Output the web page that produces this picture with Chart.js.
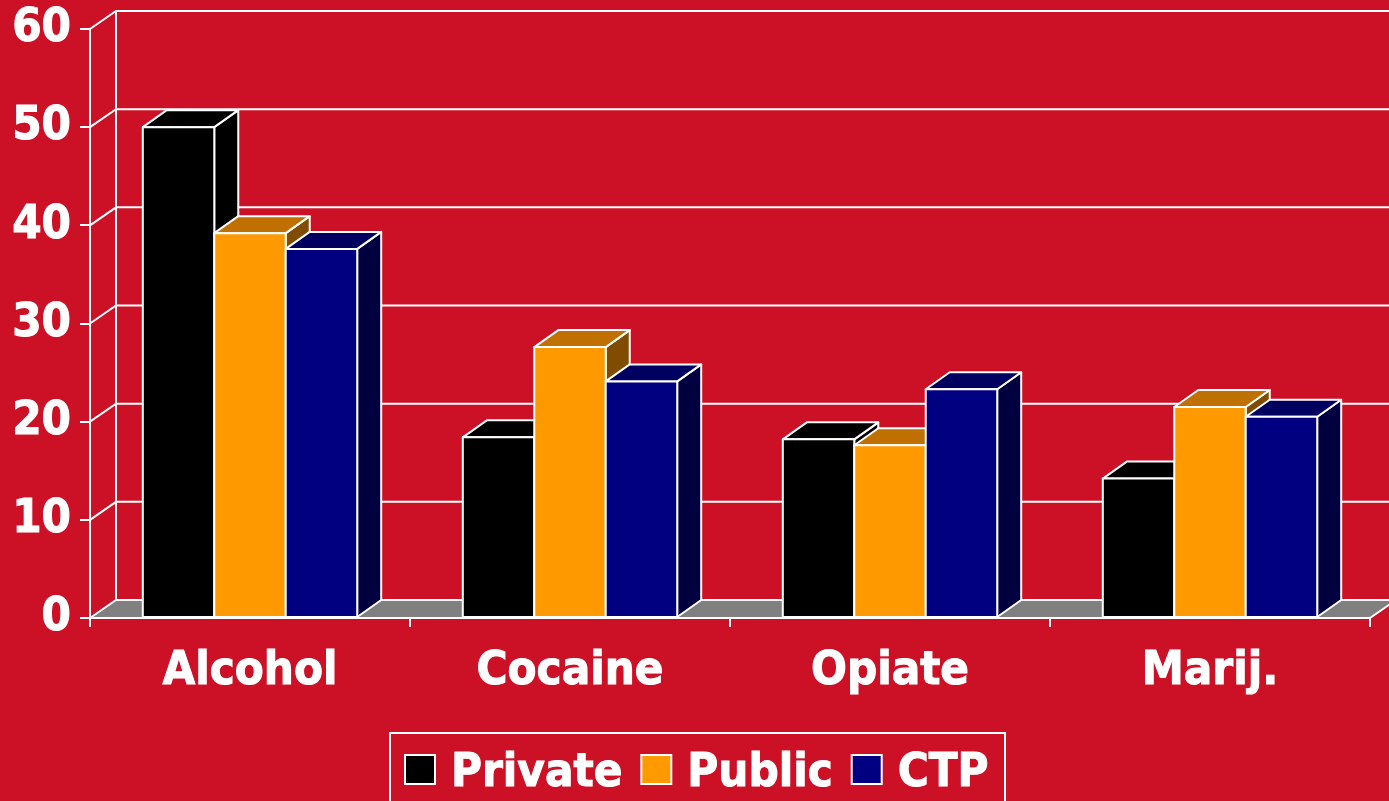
<!DOCTYPE html>
<html>
<head>
<meta charset="utf-8">
<script src="https://cdn.jsdelivr.net/npm/chart.js@4.4.1/dist/chart.umd.min.js"></script>
<style>
  html, body { margin: 0; padding: 0; background: #CC1026; }
  #wrap { width: 1389px; height: 801px; position: relative; }
</style>
</head>
<body>
<div id="wrap"><canvas id="chart"></canvas></div>
<script>
// --- Data
const categories = ['Alcohol', 'Cocaine', 'Opiate', 'Marij.'];
const seriesNames = ['Private', 'Public', 'CTP'];
const privateValues = [50.0, 18.4, 18.2, 14.2];
const publicValues = [39.2, 27.6, 17.6, 21.5];
const ctpValues = [37.6, 24.1, 23.3, 20.5];
const yTicks = [0, 10, 20, 30, 40, 50, 60];

// --- Styles
const BG = '#CC1026';
const FLOOR = '#808080';
const faceColors = ['#000000', '#FF9900', '#000080'];
const topColors = ['#000000', '#C07000', '#000060'];
const sideColors = ['#000000', '#804C00', '#000040'];
const FONT = '"DejaVu Sans Condensed", "DejaVu Sans", sans-serif';
const FONT_SIZE = 47;
const TEXT_STROKE = 1.0; // thickens the bold labels a little

// oblique depth of the walls and of the bars
const WALL_DX = 26, WALL_DY = -18;
const BAR_DX = 24, BAR_DY = -17;

function poly(ctx, pts, fill) {
  ctx.beginPath();
  ctx.moveTo(pts[0][0], pts[0][1]);
  for (let i = 1; i < pts.length; i++) ctx.lineTo(pts[i][0], pts[i][1]);
  ctx.closePath();
  ctx.fillStyle = fill;
  ctx.fill();
  ctx.stroke();
}

const box3d = {
  id: 'box3d',
  beforeDraw(chart) {
    const { ctx, chartArea: a } = chart;
    const y = chart.scales.y;
    const y0 = y.getPixelForValue(0);
    ctx.save();
    ctx.fillStyle = BG;
    ctx.fillRect(0, 0, chart.width, chart.height);

    // floor
    ctx.beginPath();
    ctx.moveTo(a.left, y0);
    ctx.lineTo(a.right, y0);
    ctx.lineTo(a.right + WALL_DX, y0 + WALL_DY);
    ctx.lineTo(a.left + WALL_DX, y0 + WALL_DY);
    ctx.closePath();
    ctx.fillStyle = FLOOR;
    ctx.fill();

    ctx.strokeStyle = '#fff';
    ctx.lineWidth = 2;
    // side wall diagonals + back wall gridlines
    yTicks.forEach(v => {
      const py = y.getPixelForValue(v);
      ctx.beginPath();
      ctx.moveTo(a.left, py);
      ctx.lineTo(a.left + WALL_DX, py + WALL_DY);
      ctx.lineTo(a.right + WALL_DX, py + WALL_DY);
      ctx.stroke();
    });
    // back wall left edge
    ctx.beginPath();
    ctx.moveTo(a.left + WALL_DX, y.getPixelForValue(60) + WALL_DY);
    ctx.lineTo(a.left + WALL_DX, y0 + WALL_DY);
    ctx.stroke();
    // floor right edge
    ctx.beginPath();
    ctx.moveTo(a.right, y0);
    ctx.lineTo(a.right + WALL_DX, y0 + WALL_DY);
    ctx.stroke();
    ctx.restore();
  },
  // bars are drawn below, category by category, so nearer faces overlap correctly
  beforeDatasetDraw() { return false; },
  afterDatasetsDraw(chart) {
    const ctx = chart.ctx;
    const metas = chart.data.datasets.map((d, i) => chart.getDatasetMeta(i));
    ctx.save();
    ctx.strokeStyle = '#fff';
    ctx.lineWidth = 2;
    ctx.lineJoin = 'round';
    categories.forEach((c, ci) => {
      metas.forEach((m, di) => {
        const { x, y, base, width } = m.data[ci].getProps(['x', 'y', 'base', 'width'], true);
        const l = x - width / 2, r = x + width / 2;
        poly(ctx, [[r, y], [r + BAR_DX, y + BAR_DY], [r + BAR_DX, base + BAR_DY], [r, base]], sideColors[di]);
        poly(ctx, [[l, y], [l + BAR_DX, y + BAR_DY], [r + BAR_DX, y + BAR_DY], [r, y]], topColors[di]);
        poly(ctx, [[l, y], [r, y], [r, base], [l, base]], faceColors[di]);
      });
    });
    ctx.restore();
  },
  afterDraw(chart) {
    // legend box
    const ctx = chart.ctx;
    ctx.save();
    ctx.strokeStyle = '#fff';
    ctx.lineWidth = 2;
    ctx.strokeRect(390, 733, 615, 80);
    ctx.font = 'bold ' + FONT_SIZE + 'px ' + FONT;
    ctx.textBaseline = 'alphabetic';
    let cx = 405;
    seriesNames.forEach((name, i) => {
      ctx.fillStyle = faceColors[i];
      ctx.lineWidth = 2;
      ctx.fillRect(cx, 755, 30, 29);
      ctx.strokeRect(cx, 755, 30, 29);
      cx += 30 + 16;
      ctx.fillStyle = '#fff';
      ctx.lineWidth = TEXT_STROKE;
      ctx.fillText(name, cx, 786);
      ctx.strokeText(name, cx, 786);
      cx += ctx.measureText(name).width + 19;
    });
    ctx.restore();
  }
};

const tickFont = { family: FONT, weight: 'bold', size: FONT_SIZE };

new Chart(document.getElementById('chart'), {
  type: 'bar',
  data: {
    labels: categories,
    datasets: [
      { label: seriesNames[0], data: privateValues, backgroundColor: faceColors[0] },
      { label: seriesNames[1], data: publicValues, backgroundColor: faceColors[1] },
      { label: seriesNames[2], data: ctpValues, backgroundColor: faceColors[2] }
    ]
  },
  options: {
    responsive: true,
    maintainAspectRatio: false,
    animation: false,
    layout: { padding: { top: 29, right: 19, left: 0, bottom: 0 } },
    datasets: { bar: { categoryPercentage: 0.67, barPercentage: 1 } },
    plugins: { legend: { display: false }, tooltip: { enabled: false } },
    scales: {
      x: {
        grid: { offset: true, drawOnChartArea: false, color: '#fff', lineWidth: 2, tickLength: 9 },
        border: { color: '#fff', width: 2 },
        ticks: { color: '#fff', font: tickFont, padding: 17, textStrokeColor: '#fff', textStrokeWidth: TEXT_STROKE },
        afterFit: s => { s.height = 183; s.paddingLeft = 0; s.paddingRight = 0; }
      },
      y: {
        min: 0, max: 60,
        ticks: { stepSize: 10, color: '#fff', font: tickFont, padding: 9, textStrokeColor: '#fff', textStrokeWidth: TEXT_STROKE },
        grid: { drawOnChartArea: false, color: '#fff', lineWidth: 2, tickLength: 10 },
        border: { color: '#fff', width: 2 },
        afterFit: s => { s.width = 90; s.paddingTop = 0; s.paddingBottom = 0; }
      }
    }
  },
  plugins: [box3d]
});
</script>
</body>
</html>
